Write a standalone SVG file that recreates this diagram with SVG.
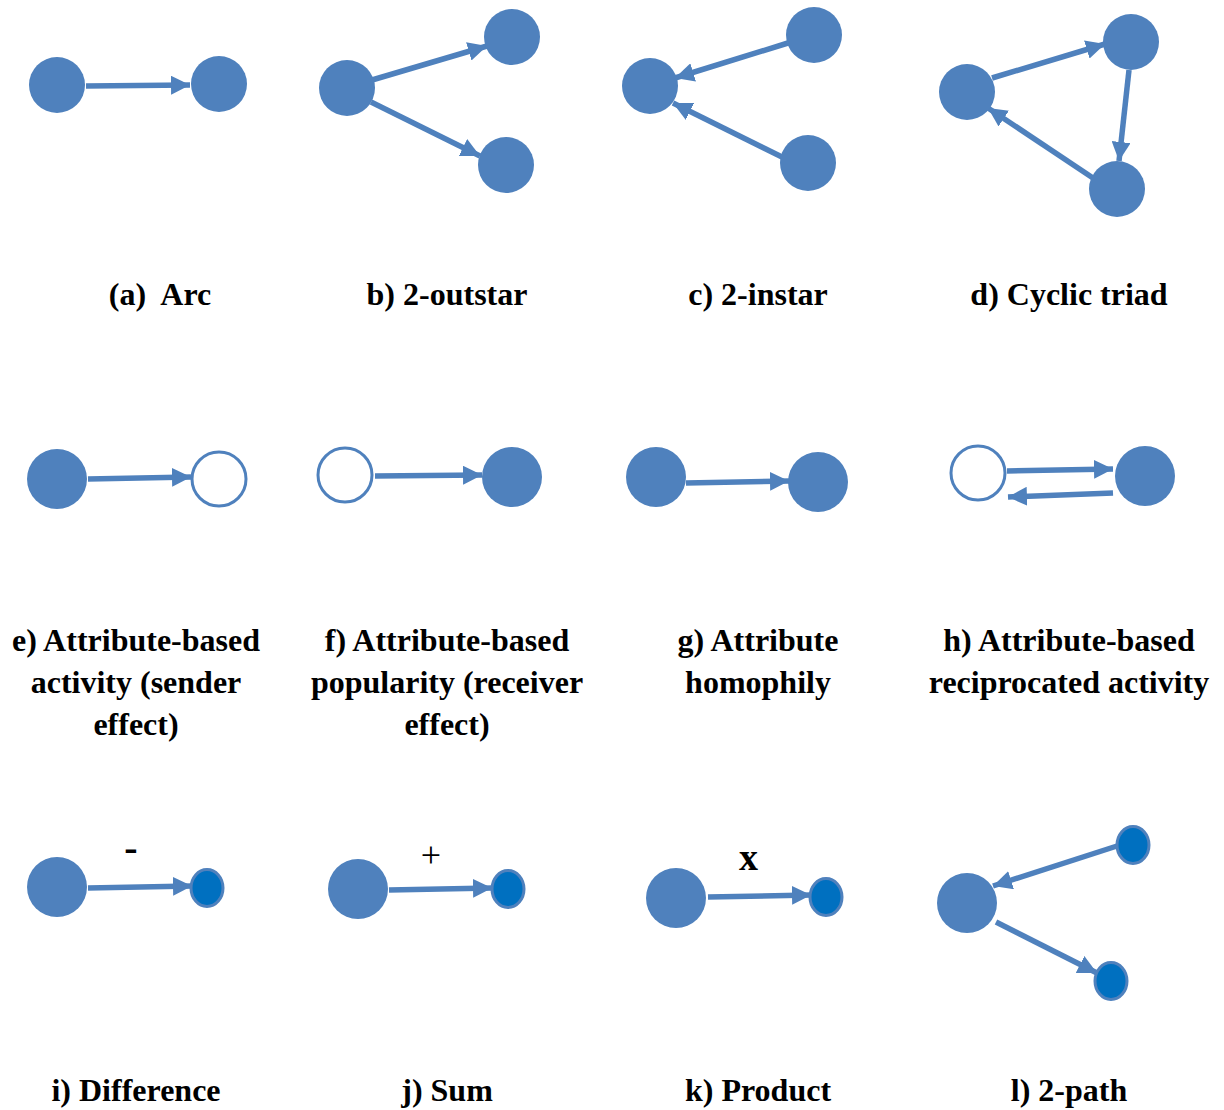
<svg xmlns="http://www.w3.org/2000/svg" width="1224" height="1110" viewBox="0 0 1224 1110">
<style>
.n{fill:#4F81BD}
.h{fill:#fff;stroke:#4F81BD;stroke-width:3}
.s{fill:#0070C0;stroke:#4F81BD;stroke-width:3}
.e{stroke:#4F81BD;stroke-width:5.5;fill:none;marker-end:url(#ah)}
.t{font-family:"Liberation Serif","Times New Roman",serif;font-weight:bold;font-size:32px;fill:#000;text-anchor:middle}
</style>
<defs>
<marker id="ah" markerUnits="userSpaceOnUse" markerWidth="20" markerHeight="19" refX="19" refY="9.5" orient="auto">
<path d="M0,0 L19,9.5 L0,19 z" fill="#4F81BD"/>
</marker>
</defs>
<rect width="1224" height="1110" fill="#fff"/>
<g id="connectors">
<line class="e" x1="86" y1="86" x2="190" y2="85"/>
<line class="e" x1="372" y1="80" x2="487" y2="46"/>
<line class="e" x1="371" y1="102" x2="480" y2="156"/>
<line class="e" x1="788" y1="43" x2="675" y2="78"/>
<line class="e" x1="782" y1="157" x2="673" y2="103"/>
<line class="e" x1="992" y1="78" x2="1105" y2="44"/>
<line class="e" x1="1129" y1="70" x2="1119" y2="161"/>
<line class="e" x1="1093" y1="178" x2="988" y2="108"/>
<line class="e" x1="88" y1="479" x2="191" y2="477"/>
<line class="e" x1="375" y1="476" x2="482" y2="475"/>
<line class="e" x1="686" y1="483" x2="789" y2="481"/>
<line class="e" x1="1007" y1="471" x2="1113" y2="469"/>
<line class="e" x1="1113" y1="493" x2="1008" y2="497"/>
<line class="e" x1="88" y1="888" x2="192" y2="886"/>
<line class="e" x1="389" y1="890" x2="492" y2="888"/>
<line class="e" x1="708" y1="897" x2="811" y2="895"/>
<line class="e" x1="1117" y1="846" x2="993" y2="886"/>
<line class="e" x1="996" y1="922" x2="1097" y2="973"/>
</g>
<g id="a"><circle class="n" cx="57" cy="85" r="28"/><circle class="n" cx="219" cy="84" r="28"/><text class="t" x="160" y="305">(a)&#160; Arc</text></g>
<g id="b"><circle class="n" cx="347" cy="88" r="28"/><circle class="n" cx="512" cy="37" r="28"/><circle class="n" cx="506" cy="165" r="28"/><text class="t" x="447" y="305">b) 2-outstar</text></g>
<g id="c"><circle class="n" cx="650" cy="86" r="28"/><circle class="n" cx="814" cy="35" r="28"/><circle class="n" cx="808" cy="163" r="28"/><text class="t" x="758" y="305">c) 2-instar</text></g>
<g id="d"><circle class="n" cx="967" cy="92" r="28"/><circle class="n" cx="1131" cy="42" r="28"/><circle class="n" cx="1117" cy="189" r="28"/><text class="t" x="1069" y="305">d) Cyclic triad</text></g>
<g id="e"><circle class="n" cx="57" cy="479" r="30"/><circle class="h" cx="219" cy="479" r="27"/><text class="t" x="136" y="651">e) Attribute-based</text><text class="t" x="136" y="693">activity (sender</text><text class="t" x="136" y="735">effect)</text></g>
<g id="f"><circle class="h" cx="345" cy="475" r="27"/><circle class="n" cx="512" cy="477" r="30"/><text class="t" x="447" y="651">f) Attribute-based</text><text class="t" x="447" y="693">popularity (receiver</text><text class="t" x="447" y="735">effect)</text></g>
<g id="g"><circle class="n" cx="656" cy="477" r="30"/><circle class="n" cx="818" cy="482" r="30"/><text class="t" x="758" y="651">g) Attribute</text><text class="t" x="758" y="693">homophily</text></g>
<g id="h"><circle class="h" cx="978" cy="473" r="27"/><circle class="n" cx="1145" cy="476" r="30"/><text class="t" x="1069" y="651">h) Attribute-based</text><text class="t" x="1069" y="693">reciprocated activity</text></g>
<g id="i"><circle class="n" cx="57" cy="887" r="30"/><ellipse class="s" cx="207" cy="888" rx="16" ry="18.5"/><text class="t" x="131" y="861" style="font-size:40px">-</text><text class="t" x="136" y="1101">i) Difference</text></g>
<g id="j"><circle class="n" cx="358" cy="889" r="30"/><ellipse class="s" cx="508" cy="889" rx="16" ry="18.5"/><text class="t" x="431" y="867" style="font-weight:normal;font-size:36px">+</text><text class="t" x="447" y="1101">j) Sum</text></g>
<g id="k"><circle class="n" cx="676" cy="898" r="30"/><ellipse class="s" cx="826" cy="897" rx="16" ry="18.5"/><text class="t" x="748.5" y="870" style="font-size:38px">x</text><text class="t" x="758" y="1101">k) Product</text></g>
<g id="l"><circle class="n" cx="967" cy="903" r="30"/><ellipse class="s" cx="1133" cy="845" rx="16" ry="18.5"/><ellipse class="s" cx="1111" cy="981" rx="16" ry="18.5"/><text class="t" x="1069" y="1101">l) 2-path</text></g>
</svg>
